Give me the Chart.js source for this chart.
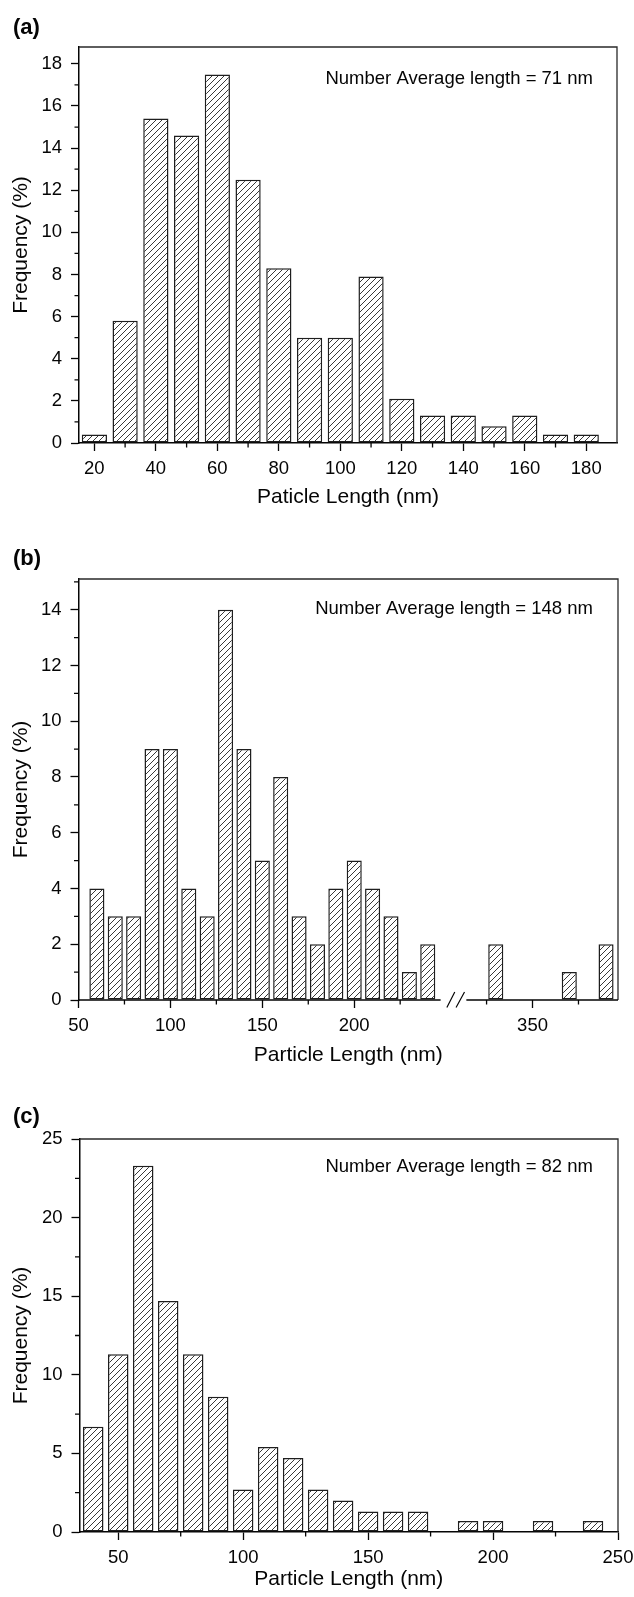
<!DOCTYPE html>
<html><head><meta charset="utf-8">
<script src="https://cdn.jsdelivr.net/npm/chart.js@4/dist/chart.umd.min.js"></script>
<style>
html,body{margin:0;padding:0;background:#fff;}
body{width:634px;height:1597px;position:relative;overflow:hidden;}
canvas{position:absolute;left:0;}
</style></head><body>
<canvas id="ca" width="634" height="530" style="top:0;width:634px;height:530px"></canvas>
<canvas id="cb" width="634" height="540" style="top:530px;width:634px;height:540px"></canvas>
<canvas id="cc" width="634" height="527" style="top:1070px;width:634px;height:527px"></canvas>
<script>
// ---------- Panel (a) ----------
const lengthsA = [20,30,40,50,60,70,80,90,100,110,120,130,140,150,160,170,180];
const freqA    = [0.4,5.8,15.4,14.6,17.5,12.5,8.3,5.0,5.0,7.9,2.1,1.3,1.3,0.8,1.3,0.4,0.4];
const xTicksA  = [20,40,60,80,100,120,140,160,180];
const xMinorA  = [30,50,70,90,110,130,150,170];
const yTicksA  = [0,2,4,6,8,10,12,14,16,18];
const yMinorA  = [1,3,5,7,9,11,13,15,17];

// ---------- Panel (b) ----------
const lengthsB = [60,70,80,90,100,110,120,130,140,150,160,170,180,190,200,210,220,230,240,330,370,390];
const freqB    = [4,3,3,9,9,4,3,14,9,5,8,3,2,4,5,4,3,1,2,2,1,2];
const xTicksB  = [50,100,150,200,350];
const xMinorB  = [75,125,175,225,325,375];
const yTicksB  = [0,2,4,6,8,10,12,14];
const yMinorB  = [1,3,5,7,9,11,13,15];
const breakStartB = 250, breakEndB = 303;   // hidden part of the x axis

// ---------- Panel (c) ----------
const lengthsC = [40,50,60,70,80,90,100,110,120,130,140,150,160,170,190,200,220,240];
const freqC    = [6.7,11.3,23.3,14.7,11.3,8.6,2.7,5.4,4.7,2.7,2.0,1.3,1.3,1.3,0.7,0.7,0.7,0.7];
const xTicksC  = [50,100,150,200,250];
const xMinorC  = [75,125,175,225];
const yTicksC  = [0,5,10,15,20,25];
const yMinorC  = [2.5,7.5,12.5,17.5,22.5];

const FONT = '"Liberation Sans", Arial, Helvetica, sans-serif';
const INK = '#050505';

function makeHatch() {
  const s = 6;
  const c = document.createElement('canvas');
  c.width = s; c.height = s;
  const g = c.getContext('2d');
  g.fillStyle = '#ffffff'; g.fillRect(0, 0, s, s);
  g.strokeStyle = '#2e2e2e'; g.lineWidth = 0.95;
  g.beginPath();
  g.moveTo(0, s); g.lineTo(s, 0);
  g.moveTo(-1, 1); g.lineTo(1, -1);
  g.moveTo(s - 1, s + 1); g.lineTo(s + 1, s - 1);
  g.stroke();
  return c.getContext('2d').createPattern(c, 'repeat');
}
const hatch = makeHatch();

function decorFor(p) {
  const toD = p.toD || (v => v);
  return {
    id: 'decor',
    afterDraw(chart) {
      const {ctx, chartArea: a, scales: {x, y}} = chart;
      ctx.save();
      // frame (top/right)
      ctx.strokeStyle = '#2a2a2a'; ctx.lineWidth = 1.3;
      ctx.beginPath();
      ctx.moveTo(a.left, a.top); ctx.lineTo(a.right, a.top); ctx.lineTo(a.right, a.bottom);
      ctx.stroke();
      // minor ticks
      ctx.strokeStyle = INK; ctx.lineWidth = 1.3;
      ctx.beginPath();
      p.xMinor.forEach(v => {
        const px = x.getPixelForValue(toD(v));
        ctx.moveTo(px, a.bottom); ctx.lineTo(px, a.bottom + 4.5);
      });
      p.yMinor.forEach(v => {
        const py = y.getPixelForValue(v);
        ctx.moveTo(a.left, py); ctx.lineTo(a.left - 4.5, py);
      });
      ctx.stroke();
      // broken x axis
      if (p.axisGap) {
        ctx.strokeStyle = INK; ctx.lineWidth = 1.5;
        ctx.beginPath();
        ctx.moveTo(a.left, a.bottom); ctx.lineTo(x.getPixelForValue(p.axisGap[0]), a.bottom);
        ctx.moveTo(x.getPixelForValue(p.axisGap[1]), a.bottom); ctx.lineTo(a.right, a.bottom);
        ctx.stroke();
        ctx.lineWidth = 1.2;
        ctx.beginPath();
        p.slashes.forEach(([u0, u1]) => {
          ctx.moveTo(x.getPixelForValue(u0), a.bottom + 7.5);
          ctx.lineTo(x.getPixelForValue(u1), a.bottom - 8);
        });
        ctx.stroke();
      }
      // texts
      ctx.fillStyle = INK;
      ctx.font = 'bold 22px ' + FONT;
      ctx.textAlign = 'left'; ctx.textBaseline = 'middle';
      ctx.fillText(p.label, 13, p.labelY);
      ctx.font = '18.5px ' + FONT;
      ctx.textAlign = 'right'; ctx.textBaseline = 'alphabetic';
      ctx.fillText(p.note, 593, p.noteY);
      ctx.restore();
    }
  };
}

function makePanel(id, p) {
  const toD = p.toD || (v => v);
  return new Chart(document.getElementById(id), {
    type: 'bar',
    data: { datasets: [{
      data: p.x.map((v, i) => ({x: toD(v), y: p.y[i]})),
      backgroundColor: hatch,
      borderColor: '#1e1e1e',
      borderWidth: 1.5,
      borderSkipped: false,
      barPercentage: 1,
      categoryPercentage: 0.82
    }]},
    options: {
      responsive: false, animation: false, devicePixelRatio: 1,
      layout: {padding: {top: p.top, right: 634 - p.right, left: 0, bottom: 0}},
      plugins: {legend: {display: false}, tooltip: {enabled: false}},
      scales: {
        x: {
          type: 'linear', min: toD(p.xMin), max: toD(p.xMax), offset: false,
          grid: {drawOnChartArea: false, drawTicks: true, tickLength: 8, tickWidth: 1.3, tickColor: INK, offset: false},
          border: {display: !p.axisGap, color: INK, width: 1.5},
          ticks: {font: {family: FONT, size: 18.5}, color: INK, padding: 7, maxRotation: 0, autoSkip: false,
                  callback: (v, i) => String(p.xTicks[i])},
          afterBuildTicks: s => { s.ticks = p.xTicks.map(v => ({value: toD(v)})); },
          afterFit: s => { s.height = p.h - p.bottom; s.paddingLeft = 0; s.paddingRight = 0; },
          title: {display: true, text: p.xTitle, color: INK,
                  font: {family: FONT, size: 21, lineHeight: 1.2}, padding: {top: 0, bottom: p.xTitlePad}}
        },
        y: {
          min: 0, max: p.yMax,
          grid: {drawOnChartArea: false, drawTicks: true, tickLength: 8, tickWidth: 1.3, tickColor: INK},
          border: {display: true, color: INK, width: 1.5},
          ticks: {font: {family: FONT, size: 18.5}, color: INK, padding: 9, autoSkip: false,
                  callback: (v, i) => String(p.yTicks[i])},
          afterBuildTicks: s => { s.ticks = p.yTicks.map(v => ({value: v})); },
          afterFit: s => { s.width = p.left; s.paddingTop = 0; s.paddingBottom = 0; },
          title: {display: true, text: 'Frequency (%)', color: INK,
                  font: {family: FONT, size: 21, lineHeight: 1.2}, padding: {top: 8.4, bottom: 0}}
        }
      }
    },
    plugins: [decorFor(p)]
  });
}

makePanel('ca', {
  h: 530, top: 47, bottom: 443, left: 79, right: 617,
  xMin: 15, xMax: 190, yMax: 18.8,
  x: lengthsA, y: freqA, xTicks: xTicksA, xMinor: xMinorA, yTicks: yTicksA, yMinor: yMinorA,
  xTitle: 'Paticle Length (nm)', xTitlePad: 20.4,
  label: '(a)', labelY: 28, note: 'Number Average length = 71 nm', noteY: 84
});

const toDispB = v => (v >= breakEndB ? v - (breakEndB - breakStartB) : v);
makePanel('cb', {
  h: 540, top: 49, bottom: 470, left: 78.5, right: 618,
  xMin: 50, xMax: 396.5, yMax: 15.1, toD: toDispB,
  x: lengthsB, y: freqB, xTicks: xTicksB, xMinor: xMinorB, yTicks: yTicksB, yMinor: yMinorB,
  axisGap: [247, 261], slashes: [[250.4, 254.7], [255.4, 260]],
  xTitle: 'Particle Length (nm)', xTitlePad: 2.4,
  label: '(b)', labelY: 29, note: 'Number Average length = 148 nm', noteY: 84
});

makePanel('cc', {
  h: 527, top: 69, bottom: 462, left: 79.5, right: 618,
  xMin: 34.5, xMax: 250, yMax: 25,
  x: lengthsC, y: freqC, xTicks: xTicksC, xMinor: xMinorC, yTicks: yTicksC, yMinor: yMinorC,
  xTitle: 'Particle Length (nm)', xTitlePad: 5.4,
  label: '(c)', labelY: 47, note: 'Number Average length = 82 nm', noteY: 102
});
</script>
</body></html>
